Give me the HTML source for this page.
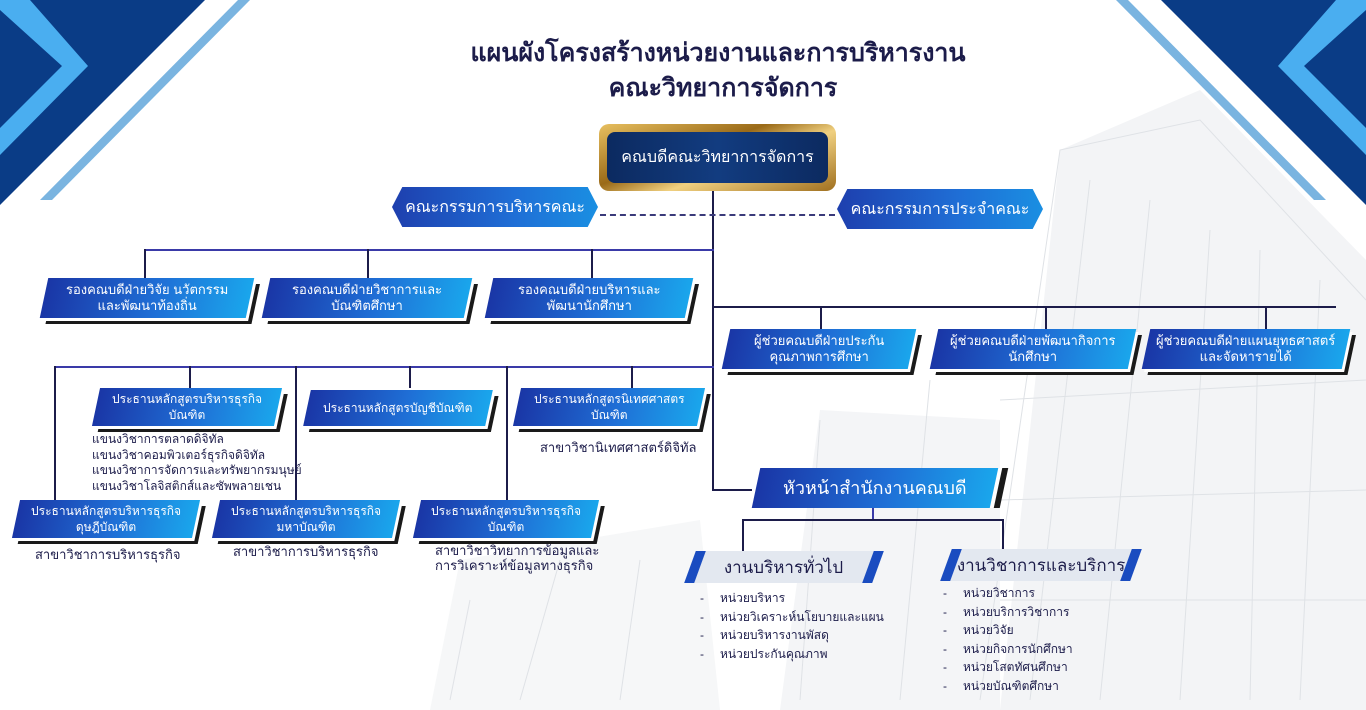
<!DOCTYPE html>
<html><head><meta charset="utf-8">
<style>
body{margin:0;width:1366px;height:710px;overflow:hidden;background:#fff;font-family:"Liberation Sans",sans-serif;position:relative}
.a{position:absolute}
.t{position:absolute;white-space:nowrap;color:#1c1c4a}
.bx{position:absolute;transform:skewX(-12deg);background:linear-gradient(90deg,#1a36a6,#1f6fd6 55%,#1aa6ec);box-shadow:3px 3px 0 #fff,7px 6px 0 #1a1a1a;display:flex;align-items:center;justify-content:center}
.bx span{transform:skewX(12deg);color:#fff;text-align:center;font-size:13px;line-height:16px}
.l{position:absolute;background:#1c1c4a}
.lb{position:absolute;background:#3a3aa8}
.hex{position:absolute;background:linear-gradient(90deg,#1e3fae,#1f6fd6 60%,#1a8fe2);clip-path:polygon(5% 0,95% 0,100% 50%,95% 100%,5% 100%,0 50%);display:flex;align-items:center;justify-content:center;color:#fff;font-size:16px}
.sub{position:absolute;transform:skewX(-20deg);background:#e3e8f0;border-left:10px solid #1a4cc0;border-right:10px solid #1a4cc0;display:flex;align-items:center;justify-content:center}
.sub span{transform:skewX(20deg);font-size:17px;color:#1c1c4a}
.li{position:absolute;font-size:12px;color:#1c1c4a;line-height:18.5px;white-space:nowrap}
</style></head><body>
<svg class="a" style="left:0;top:0" width="1366" height="710">
<polygon points="1000,710 1060,150 1200,90 1366,260 1366,710" fill="#f3f4f6"/>
<polygon points="430,710 460,560 700,520 720,710" fill="#f6f7f8"/>
<polygon points="780,710 820,410 1000,420 1000,710" fill="#f4f5f7"/>
<g stroke="#dfe2e6" stroke-width="1" fill="none">
<path d="M980 700 L1060 150 L1200 120 L1366 300"/><path d="M1100 700 L1150 200"/><path d="M1250 700 L1260 250"/>
<path d="M800 700 L820 420"/><path d="M900 700 L930 380"/><path d="M450 700 L470 600"/>
<path d="M1030 700 L1090 180"/><path d="M1180 700 L1210 230"/><path d="M1300 700 L1320 280"/>
<path d="M1000 400 L1366 380"/><path d="M1000 500 L1366 490"/><path d="M1000 600 L1366 600"/>
<path d="M520 700 L560 560"/><path d="M620 700 L640 560"/>
</g>
<polygon points="0,0 205,0 0,205" fill="#0a3c86"/>
<polygon points="0,0 30,0 88,66 0,155 0,128 62,66 0,10" fill="#4aaef0"/>
<polygon points="250,0 238,0 40,200 52,200" fill="#7ab4e0"/>
<polygon points="1366,0 1161,0 1366,205" fill="#0a3c86"/>
<polygon points="1366,0 1336,0 1278,66 1366,155 1366,128 1304,66 1366,10" fill="#4aaef0"/>
<polygon points="1116,0 1128,0 1326,200 1314,200" fill="#7ab4e0"/>
</svg>
<div class="t" style="left:0;width:1436px;text-align:center;top:33px;font-size:25px;font-weight:bold">แผนผังโครงสร้างหน่วยงานและการบริหารงาน</div>
<div class="t" style="left:0;width:1446px;text-align:center;top:68px;font-size:25px;font-weight:bold">คณะวิทยาการจัดการ</div>

<!-- lines -->
<div class="l" style="left:712px;top:190px;width:2px;height:300px"></div>
<div class="l" style="left:712px;top:489px;width:40px;height:2px"></div>
<div class="a" style="left:600px;top:214px;width:235px;border-top:2px dashed #3a3a7a"></div>
<div class="lb" style="left:144px;top:249px;width:570px;height:2px"></div>
<div class="l" style="left:144px;top:249px;width:2px;height:30px"></div>
<div class="l" style="left:367px;top:249px;width:2px;height:30px"></div>
<div class="l" style="left:591px;top:249px;width:2px;height:30px"></div>
<div class="l" style="left:712px;top:306px;width:624px;height:2px"></div>
<div class="l" style="left:820px;top:306px;width:2px;height:24px"></div>
<div class="l" style="left:1045px;top:306px;width:2px;height:24px"></div>
<div class="l" style="left:1265px;top:306px;width:2px;height:24px"></div>
<div class="lb" style="left:54px;top:366px;width:660px;height:2px"></div>
<div class="l" style="left:54px;top:366px;width:2px;height:134px"></div>
<div class="l" style="left:189px;top:366px;width:2px;height:22px"></div>
<div class="l" style="left:295px;top:366px;width:2px;height:134px"></div>
<div class="l" style="left:409px;top:366px;width:2px;height:22px"></div>
<div class="l" style="left:506px;top:366px;width:2px;height:134px"></div>
<div class="l" style="left:631px;top:366px;width:2px;height:22px"></div>
<div class="lb" style="left:872px;top:508px;width:2px;height:12px"></div>
<div class="l" style="left:742px;top:519px;width:262px;height:2px"></div>
<div class="l" style="left:742px;top:519px;width:2px;height:33px"></div>
<div class="l" style="left:1002px;top:519px;width:2px;height:30px"></div>

<!-- dean -->
<div class="a" style="left:599px;top:124px;width:237px;height:67px;border-radius:10px;background:linear-gradient(160deg,#e8c060,#9a6a18 40%,#f0d080 60%,#a07020);"></div>
<div class="a" style="left:607px;top:132px;width:221px;height:51px;border-radius:8px;background:linear-gradient(90deg,#0c2a60,#123c80,#0c2a60);display:flex;align-items:center;justify-content:center;color:#fff;font-size:16px">คณบดีคณะวิทยาการจัดการ</div>
<div class="hex" style="left:392px;top:187px;width:206px;height:40px">คณะกรรมการบริหารคณะ</div>
<div class="hex" style="left:837px;top:189px;width:206px;height:40px">คณะกรรมการประจำคณะ</div>

<div class="bx" style="left:44px;top:278px;width:206px;height:40px"><span>รองคณบดีฝ่ายวิจัย นวัตกรรม<br>และพัฒนาท้องถิ่น</span></div>
<div class="bx" style="left:266px;top:278px;width:202px;height:40px"><span>รองคณบดีฝ่ายวิชาการและ<br>บัณฑิตศึกษา</span></div>
<div class="bx" style="left:489px;top:278px;width:200px;height:40px"><span>รองคณบดีฝ่ายบริหารและ<br>พัฒนานักศึกษา</span></div>

<div class="bx" style="left:726px;top:329px;width:186px;height:40px"><span>ผู้ช่วยคณบดีฝ่ายประกัน<br>คุณภาพการศึกษา</span></div>
<div class="bx" style="left:934px;top:329px;width:198px;height:40px"><span>ผู้ช่วยคณบดีฝ่ายพัฒนากิจการ<br>นักศึกษา</span></div>
<div class="bx" style="left:1146px;top:329px;width:200px;height:40px"><span>ผู้ช่วยคณบดีฝ่ายแผนยุทธศาสตร์<br>และจัดหารายได้</span></div>

<div class="bx" style="left:96px;top:388px;width:182px;height:38px"><span style="font-size:12px">ประธานหลักสูตรบริหารธุรกิจ<br>บัณฑิต</span></div>
<div class="bx" style="left:307px;top:390px;width:182px;height:36px"><span style="font-size:12px">ประธานหลักสูตรบัญชีบัณฑิต</span></div>
<div class="bx" style="left:517px;top:388px;width:184px;height:38px"><span style="font-size:12px">ประธานหลักสูตรนิเทศศาสตร<br>บัณฑิต</span></div>
<div class="li" style="left:92px;top:432px;line-height:15.5px">แขนงวิชาการตลาดดิจิทัล<br>แขนงวิชาคอมพิวเตอร์ธุรกิจดิจิทัล<br>แขนงวิชาการจัดการและทรัพยากรมนุษย์<br>แขนงวิชาโลจิสติกส์และซัพพลายเชน</div>
<div class="li" style="left:540px;top:439px;font-size:13px">สาขาวิชานิเทศศาสตร์ดิจิทัล</div>

<div class="bx" style="left:16px;top:500px;width:180px;height:38px"><span style="font-size:12px">ประธานหลักสูตรบริหารธุรกิจ<br>ดุษฎีบัณฑิต</span></div>
<div class="bx" style="left:216px;top:500px;width:180px;height:38px"><span style="font-size:12px">ประธานหลักสูตรบริหารธุรกิจ<br>มหาบัณฑิต</span></div>
<div class="bx" style="left:417px;top:500px;width:178px;height:38px"><span style="font-size:12px">ประธานหลักสูตรบริหารธุรกิจ<br>บัณฑิต</span></div>
<div class="li" style="left:35px;top:546px;font-size:13px">สาขาวิชาการบริหารธุรกิจ</div>
<div class="li" style="left:233px;top:543px;font-size:13px">สาขาวิชาการบริหารธุรกิจ</div>
<div class="li" style="left:435px;top:543px;font-size:13px;line-height:15px">สาขาวิชาวิทยาการข้อมูลและ<br>การวิเคราะห์ข้อมูลทางธุรกิจ</div>

<div class="bx" style="left:756px;top:468px;width:238px;height:40px;box-shadow:4px 0 0 #fff,10px 0 0 #1a1a1a"><span style="font-size:18px">หัวหน้าสำนักงานคณบดี</span></div>

<div class="sub" style="left:690px;top:551px;width:168px;height:32px"><span>งานบริหารทั่วไป</span></div>
<div class="sub" style="left:946px;top:549px;width:170px;height:32px"><span>งานวิชาการและบริการ</span></div>
<div class="li" style="left:700px;top:589px">-<br>-<br>-<br>-</div>
<div class="li" style="left:720px;top:589px">หน่วยบริหาร<br>หน่วยวิเคราะห์นโยบายและแผน<br>หน่วยบริหารงานพัสดุ<br>หน่วยประกันคุณภาพ</div>
<div class="li" style="left:943px;top:584px">-<br>-<br>-<br>-<br>-<br>-</div>
<div class="li" style="left:963px;top:584px">หน่วยวิชาการ<br>หน่วยบริการวิชาการ<br>หน่วยวิจัย<br>หน่วยกิจการนักศึกษา<br>หน่วยโสตทัศนศึกษา<br>หน่วยบัณฑิตศึกษา</div>
</body></html>
